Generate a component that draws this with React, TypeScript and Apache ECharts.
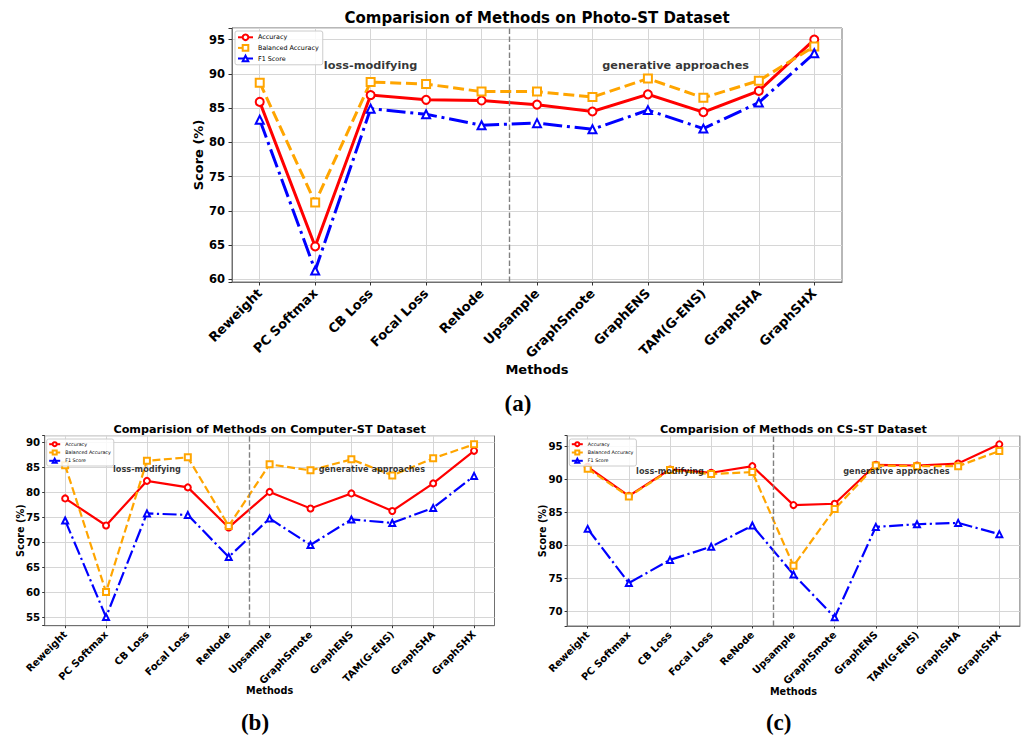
import React, { useEffect, useRef } from "react";
import * as echarts from "echarts";

// Methods compared on every dataset, in plotting order
const methods = [
  "Reweight",
  "PC Softmax",
  "CB Loss",
  "Focal Loss",
  "ReNode",
  "Upsample",
  "GraphSmote",
  "GraphENS",
  "TAM(G-ENS)",
  "GraphSHA",
  "GraphSHX",
];
const metricNames = ["Accuracy", "Balanced Accuracy", "F1 Score"];

// Photo-ST scores (%)
const photoAccuracy = [85.9, 64.8, 86.9, 86.2, 86.1, 85.5, 84.5, 87.0, 84.4, 87.5, 95.0];
const photoBalanced = [88.7, 71.2, 88.8, 88.5, 87.4, 87.4, 86.6, 89.3, 86.5, 89.0, 94.0];
const photoF1 = [83.3, 61.3, 84.9, 84.1, 82.5, 82.8, 81.9, 84.7, 82.0, 85.8, 93.0];

// Computer-ST scores (%)
const computerAccuracy = [78.8, 73.4, 82.3, 81.0, 73.0, 80.1, 76.8, 79.8, 76.3, 81.8, 88.3];
const computerBalanced = [85.4, 60.1, 86.3, 87.0, 73.3, 85.6, 84.4, 86.6, 83.4, 86.8, 89.6];
const computerF1 = [74.4, 55.1, 75.8, 75.5, 67.1, 74.8, 69.5, 74.6, 73.9, 76.9, 83.3];

// CS-ST scores (%)
const csAccuracy = [91.9, 87.5, 91.5, 91.0, 92.0, 86.1, 86.3, 92.2, 92.1, 92.4, 95.3];
const csBalanced = [91.6, 87.4, 91.4, 90.8, 91.1, 76.9, 85.5, 92.1, 92.0, 92.0, 94.3];
const csF1 = [82.5, 74.3, 77.8, 79.8, 83.0, 75.6, 69.1, 82.8, 83.2, 83.4, 81.7];

// Group annotations, placed in category-index units
const annotationLabels = ["loss-modifying", "generative approaches"];
const annotationPositions = [2, 7.5];
const dividerPosition = 4.5;
const photoNoteLevel = 91.15;
const computerNoteLevel = 84.75;
const csNoteLevel = 91.2;

const SANS = '"DejaVu Sans", Verdana, sans-serif';
const SERIF = '"Liberation Serif", "DejaVu Serif", serif';

const COLORS = { acc: "#ff0000", bal: "#ffa500", f1: "#0000ff" };

interface Panel {
  title: string;
  tag: string;
  acc: number[];
  bal: number[];
  f1: number[];
  noteLevel: number;
  left: number;
  top: number;
  width: number;
  height: number;
  titleY: number;
  titleSize: number;
  tickXSize: number;
  tickYSize: number;
  xLabelMargin: number;
  yLabelMargin: number;
  tickLen: number;
  axisTitleSize: number;
  scoreX: number;
  methodsY: number;
  lineWidth: number;
  symbolSize: number;
  markerEdge: number;
  dash: number[];
  dashDot: number[];
  noteSize: number;
  legendLeft: number;
  legendTop: number;
  legendFont: number;
  legendItemW: number;
  legendItemH: number;
  legendGap: number;
  legendPad: number[];
  tagX: number;
  tagY: number;
}

const panels: Panel[] = [
  {
    title: "Comparision of Methods on Photo-ST Dataset",
    tag: "(a)",
    acc: photoAccuracy,
    bal: photoBalanced,
    f1: photoF1,
    noteLevel: photoNoteLevel,
    left: 232,
    top: 28,
    width: 610,
    height: 254,
    titleY: 18,
    titleSize: 15,
    tickXSize: 13,
    tickYSize: 11.5,
    xLabelMargin: 9,
    yLabelMargin: 7,
    tickLen: 3.5,
    axisTitleSize: 13,
    scoreX: 198,
    methodsY: 369,
    lineWidth: 3,
    symbolSize: 8,
    markerEdge: 1.8,
    dash: [11, 4.8],
    dashDot: [19, 4.8, 3, 4.8],
    noteSize: 11.3,
    legendLeft: 235,
    legendTop: 31,
    legendFont: 6.4,
    legendItemW: 15,
    legendItemH: 7,
    legendGap: 3,
    legendPad: [2.5, 4, 2.5, 2],
    tagX: 518,
    tagY: 403,
  },
  {
    title: "Comparision of Methods on Computer-ST Dataset",
    tag: "(b)",
    acc: computerAccuracy,
    bal: computerBalanced,
    f1: computerF1,
    noteLevel: computerNoteLevel,
    left: 44.7,
    top: 435.7,
    width: 449.8,
    height: 190,
    titleY: 429.5,
    titleSize: 11.2,
    tickXSize: 10,
    tickYSize: 10.2,
    xLabelMargin: 7,
    yLabelMargin: 4.5,
    tickLen: 2.5,
    axisTitleSize: 9.7,
    scoreX: 20,
    methodsY: 690,
    lineWidth: 2.2,
    symbolSize: 6,
    markerEdge: 1.3,
    dash: [8, 3.5],
    dashDot: [14, 3.5, 2.2, 3.5],
    noteSize: 8.2,
    legendLeft: 46.7,
    legendTop: 439,
    legendFont: 4.8,
    legendItemW: 11,
    legendItemH: 5,
    legendGap: 2.3,
    legendPad: [2.2, 3, 2.2, 1.5],
    tagX: 255,
    tagY: 722,
  },
  {
    title: "Comparision of Methods on CS-ST Dataset",
    tag: "(c)",
    acc: csAccuracy,
    bal: csBalanced,
    f1: csF1,
    noteLevel: csNoteLevel,
    left: 567.1,
    top: 435.7,
    width: 452.8,
    height: 190.3,
    titleY: 429.3,
    titleSize: 11.2,
    tickXSize: 10,
    tickYSize: 10.2,
    xLabelMargin: 7,
    yLabelMargin: 4.5,
    tickLen: 2.5,
    axisTitleSize: 9.7,
    scoreX: 542,
    methodsY: 691.3,
    lineWidth: 2.2,
    symbolSize: 6,
    markerEdge: 1.3,
    dash: [8, 3.5],
    dashDot: [14, 3.5, 2.2, 3.5],
    noteSize: 8.2,
    legendLeft: 569.3,
    legendTop: 439,
    legendFont: 4.8,
    legendItemW: 11,
    legendItemH: 5,
    legendGap: 2.3,
    legendPad: [2.2, 3, 2.2, 1.5],
    tagX: 778.7,
    tagY: 722,
  },
];

// Axis limits padded by 5% of the data span on each side
function paddedRange(groups: number[][]): [number, number] {
  const all = groups.flat();
  const lo = Math.min(...all);
  const hi = Math.max(...all);
  const pad = (hi - lo) * 0.05;
  return [lo - pad, hi + pad];
}

function text(
  content: string,
  x: number,
  y: number,
  size: number,
  family: string,
  rotation = 0
) {
  return {
    type: "text",
    x,
    y,
    rotation,
    silent: true,
    z: 100,
    style: {
      text: content,
      fontSize: size,
      fontWeight: "bold",
      fontFamily: family,
      fill: "#000",
      align: "center",
      verticalAlign: "middle",
      textAlign: "center",
      textVerticalAlign: "middle",
    },
  };
}

function buildOption() {
  const grid: any[] = [];
  const xAxis: any[] = [];
  const yAxis: any[] = [];
  const series: any[] = [];
  const legend: any[] = [];
  const graphic: any[] = [];

  panels.forEach((p, i) => {
    const [yMin, yMax] = paddedRange([p.acc, p.bal, p.f1]);
    grid.push({
      left: p.left,
      top: p.top,
      width: p.width,
      height: p.height,
      show: true,
      borderColor: "#707070",
      borderWidth: 1,
      backgroundColor: "transparent",
      containLabel: false,
      outerBoundsMode: "none",
    });

    xAxis.push({
      type: "category",
      gridIndex: i,
      data: methods,
      boundaryGap: true,
      axisLine: { show: true, onZero: false, lineStyle: { color: "#707070", width: 1 } },
      axisTick: {
        show: true,
        alignWithLabel: true,
        length: p.tickLen,
        lineStyle: { color: "#333" },
      },
      axisLabel: {
        show: true,
        interval: 0,
        rotate: 45,
        margin: p.xLabelMargin,
        fontFamily: SANS,
        fontWeight: "bold",
        fontSize: p.tickXSize,
        color: "#000",
      },
      splitLine: {
        show: true,
        alignWithLabel: true,
        interval: 0,
        lineStyle: { color: "#d6d6d6", width: 1 },
      },
    });
    // Positional axis for annotations and the group divider
    xAxis.push({
      type: "value",
      gridIndex: i,
      min: -0.5,
      max: 10.5,
      show: false,
      axisLine: { onZero: false },
    });

    yAxis.push({
      type: "value",
      gridIndex: i,
      min: yMin,
      max: yMax,
      splitNumber: 7,
      minInterval: 5,
      maxInterval: 5,
      axisLine: { show: true, onZero: false, lineStyle: { color: "#707070", width: 1 } },
      axisTick: { show: true, length: p.tickLen, lineStyle: { color: "#333" } },
      axisLabel: {
        show: true,
        margin: p.yLabelMargin,
        fontFamily: SANS,
        fontWeight: "bold",
        fontSize: p.tickYSize,
        color: "#000",
        formatter: (v: number) =>
          Math.abs(v / 5 - Math.round(v / 5)) < 1e-6 ? String(Math.round(v)) : "",
      },
      splitLine: { show: true, lineStyle: { color: "#d6d6d6", width: 1 } },
    });

    const line = (
      name: string,
      data: number[],
      color: string,
      symbol: string,
      type: any
    ) => ({
      type: "line",
      name,
      data,
      xAxisIndex: i * 2,
      yAxisIndex: i,
      symbol,
      symbolSize: p.symbolSize,
      showSymbol: true,
      z: 3,
      lineStyle: { color, width: p.lineWidth, type, cap: "butt", join: "miter" },
      itemStyle: { color, borderColor: color, borderWidth: p.markerEdge },
      emphasis: { disabled: true },
      silent: true,
    });

    series.push(line(metricNames[0], p.acc, COLORS.acc, "emptyCircle", "solid"));
    series.push(line(metricNames[1], p.bal, COLORS.bal, "emptyRect", p.dash));
    series.push(line(metricNames[2], p.f1, COLORS.f1, "emptyTriangle", p.dashDot));

    series.push({
      type: "scatter",
      name: "notes",
      xAxisIndex: i * 2 + 1,
      yAxisIndex: i,
      data: annotationPositions.map((x) => [x, p.noteLevel]),
      symbolSize: 1,
      z: 4,
      silent: true,
      itemStyle: { color: "rgba(0,0,0,0)" },
      label: {
        show: true,
        position: "inside",
        formatter: (params: any) => annotationLabels[params.dataIndex],
        fontFamily: SANS,
        fontWeight: "bold",
        fontSize: p.noteSize,
        color: "#000",
      },
      markLine: {
        silent: true,
        symbol: ["none", "none"],
        label: { show: false },
        lineStyle: { color: "#808080", width: 1.4, type: [5.5, 2.5] },
        data: [{ xAxis: dividerPosition }],
      },
    });

    legend.push({
      data: metricNames,
      orient: "vertical",
      left: p.legendLeft,
      top: p.legendTop,
      itemWidth: p.legendItemW,
      itemHeight: p.legendItemH,
      itemGap: p.legendGap,
      padding: p.legendPad,
      selectedMode: false,
      backgroundColor: "rgba(255,255,255,0.85)",
      borderColor: "#cccccc",
      borderWidth: 1,
      borderRadius: 2,
      z: 10,
      textStyle: {
        fontFamily: SANS,
        fontSize: p.legendFont,
        lineHeight: p.legendItemH,
        color: "#000",
      },
    });

    const cx = p.left + p.width / 2;
    graphic.push(text(p.title, cx, p.titleY, p.titleSize, SANS));
    graphic.push(text("Methods", cx, p.methodsY, p.axisTitleSize, SANS));
    graphic.push(
      text("Score (%)", p.scoreX, p.top + p.height / 2, p.axisTitleSize, SANS, Math.PI / 2)
    );
    graphic.push(text(p.tag, p.tagX, p.tagY, 23, SERIF));
  });

  return {
    animation: false,
    backgroundColor: "#ffffff",
    grid,
    xAxis,
    yAxis,
    series,
    legend,
    graphic,
  };
}

export default function App() {
  const ref = useRef<HTMLDivElement>(null);

  useEffect(() => {
    if (!ref.current) return;
    const chart = echarts.init(ref.current, null, { renderer: "svg" });
    chart.setOption(buildOption() as any);
    return () => {
      chart.dispose();
    };
  }, []);

  return (
    <div
      ref={ref}
      style={{
        position: "fixed",
        left: 0,
        top: 0,
        width: 1024,
        height: 738,
        background: "#ffffff",
      }}
    />
  );
}
